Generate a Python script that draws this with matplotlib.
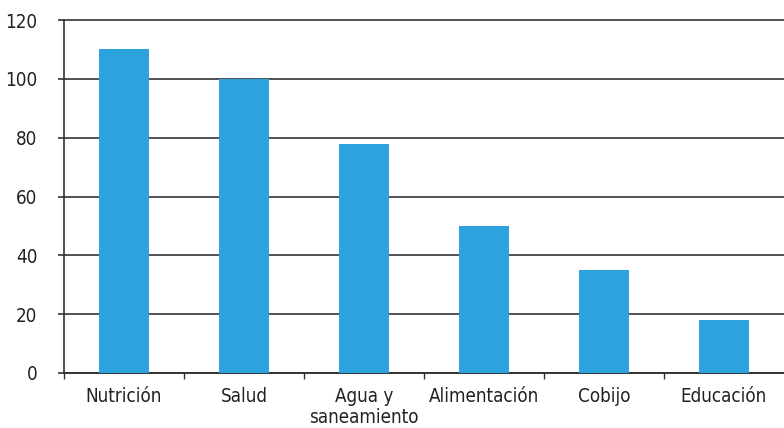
import matplotlib
matplotlib.use("Agg")
import matplotlib.pyplot as plt
from matplotlib.font_manager import fontManager
import numpy as np

categories = ["Nutrición", "Salud", "Agua y\nsaneamiento", "Alimentación", "Cobijo", "Educación"]
values = [110, 100, 78, 50, 35, 18]
yticks = [0, 20, 40, 60, 80, 100, 120]

names = {f.name for f in fontManager.ttflist}
cond = [f for f in fontManager.ttflist if f.name == "DejaVu Sans" and f.stretch in ("condensed", 'semi-condensed', 'semi-expanded') or (f.name == "DejaVu Sans" and "Condensed" in f.fname)]
if "Liberation Sans Narrow" in names:
    plt.rcParams['font.family'] = ["Liberation Sans Narrow", 'DejaVu Sans']
else:
    plt.rcParams['font.family'] = ['DejaVu Sans']
    if cond:
        plt.rcParams['font.stretch'] = 'condensed'

fig = plt.figure(figsize=(7.84, 4.28), dpi=100)
ax = fig.add_axes([64/784, 55/428, 720/784, 353/428])

x = np.arange(len(categories))
ax.bar(x, values, width=0.41, color="#2ca2de", zorder=3)
ax.set_xlim(-0.5, len(categories) - 0.5)
ax.set_ylim(0, 120)
ax.set_yticks(yticks)
ax.yaxis.grid(True, color="#333333", linewidth=1.2, zorder=1)
for gl in ax.get_ygridlines():
    gl.set_clip_on(False)
ax.tick_params(axis='y', length=4, width=1.2, color="#333333", pad=15, labelsize=13.5, labelcolor="#222222")

ax.set_xticks(np.arange(-0.5, len(categories) - 0.5, 1), minor=False)
ax.set_xticklabels([])
ax.tick_params(axis='x', which='major', length=4, width=1, color="#333333")
ax.set_xticks(x, minor=True)
ax.set_xticklabels(categories, minor=True, linespacing=1.15)
ax.tick_params(axis='x', which='minor', length=0, pad=10, labelsize=13.5, labelcolor="#222222")

for s in ["top", "right"]:
    ax.spines[s].set_visible(False)
for s in ["left", "bottom"]:
    ax.spines[s].set_color("#333333")
    ax.spines[s].set_linewidth(1.2)

fig.savefig("out.png", dpi=100)
